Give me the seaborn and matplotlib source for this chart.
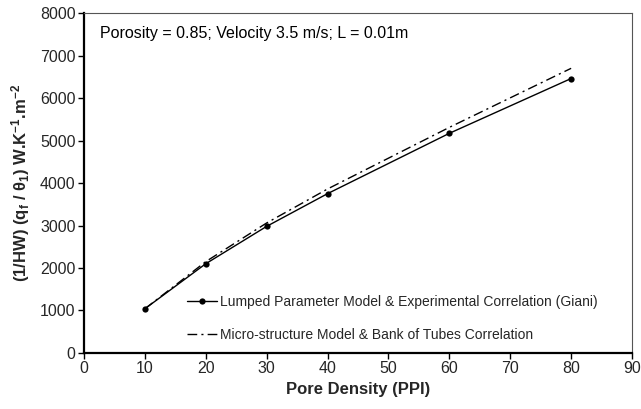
import seaborn as sns
import matplotlib.pyplot as plt
import pandas as pd

ppi_lumped = [10, 20, 30, 40, 60, 80]
lumped = [1040, 2100, 2980, 3750, 5170, 6460]
ppi_micro = [10, 20, 30, 40, 60, 80]
micro = [1040, 2150, 3060, 3860, 5310, 6700]

sns.set_theme(style="white")
plt.rcParams["font.family"] = ["Liberation Sans", "DejaVu Sans"]
plt.rcParams["mathtext.fontset"] = "custom"
plt.rcParams["mathtext.rm"] = "Liberation Sans:bold"
plt.rcParams["mathtext.it"] = "Liberation Sans:bold"
plt.rcParams["mathtext.bf"] = "Liberation Sans:bold"

df1 = pd.DataFrame({"ppi": ppi_lumped, "val": lumped})
df2 = pd.DataFrame({"ppi": ppi_micro, "val": micro})

fig = plt.figure(figsize=(6.41, 4.09), dpi=100)
ax = fig.add_axes([0.131, 0.137, 0.855, 0.831])

sns.lineplot(data=df1, x="ppi", y="val", ax=ax, color="black", lw=1.0,
             marker="o", markersize=4.5, markeredgewidth=0,
             label="Lumped Parameter Model & Experimental Correlation (Giani)")
sns.lineplot(data=df2, x="ppi", y="val", ax=ax, color="black", lw=1.0,
             dashes=False, linestyle=(0, (7, 3, 1.5, 3)),
             label="Micro-structure Model & Bank of Tubes Correlation")

ax.set_xlim(0, 90)
ax.set_ylim(0, 8000)
ax.set_xticks(range(0, 91, 10))
ax.set_yticks(range(0, 8001, 1000))
ax.tick_params(axis="both", labelsize=11.5, direction="out", length=4,
               width=1, color="black", pad=2, bottom=True, left=True)

for s in ["left", "bottom"]:
    ax.spines[s].set_color("black")
    ax.spines[s].set_linewidth(1.6)
for s in ["top", "right"]:
    ax.spines[s].set_color("#555555")
    ax.spines[s].set_linewidth(0.8)

ax.set_xlabel("Pore Density (PPI)", fontsize=12, fontweight="bold", labelpad=4)
ax.set_ylabel(r"(1/HW) (q$_\mathregular{f}$ / θ$_\mathregular{1}$) W.K$^\mathregular{-1}$.m$^\mathregular{-2}$",
              fontsize=12, fontweight="bold", labelpad=6)

ax.text(0.03, 0.94, "Porosity = 0.85; Velocity 3.5 m/s; L = 0.01m",
        transform=ax.transAxes, fontsize=11.5, color="black", va="center")

leg = ax.legend(loc="lower left", bbox_to_anchor=(0.165, -0.005), frameon=False,
                fontsize=10, handlelength=2.2, handletextpad=0.2, labelspacing=1.4)

fig.savefig("out.png", dpi=100)
